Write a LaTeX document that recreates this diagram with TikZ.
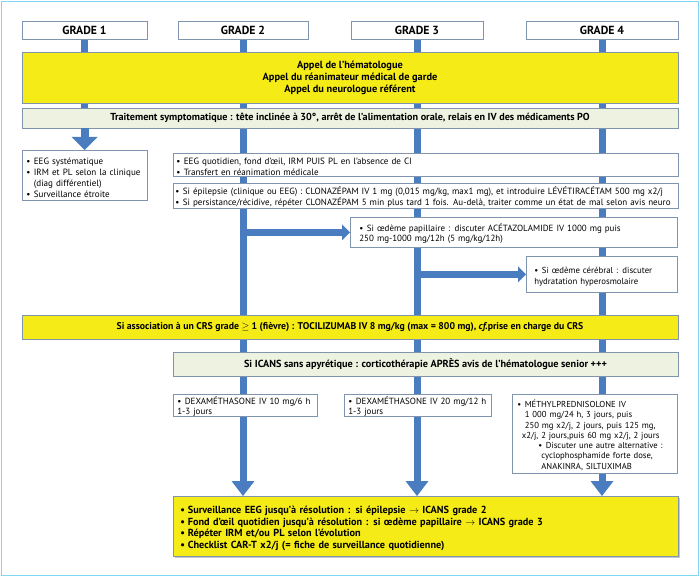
\documentclass[tikz,border=0pt]{standalone}
\usepackage{fontspec}
\setmainfont{PT Sans}
\usetikzlibrary{arrows.meta,shadows,backgrounds}
\definecolor{ylw}{HTML}{F5EC17}
\definecolor{grn}{HTML}{EEF3E1}
\definecolor{bdr}{HTML}{8194AE}
\definecolor{barc}{HTML}{4A7DC0}
\definecolor{frm}{HTML}{7FD7F2}
\newcommand\itm[1]{\par\hangindent=7.5bp\hangafter=1\noindent\makebox[7.5bp][l]{\textbullet}#1}
\newcommand\gline[2]{\par\noindent\hspace*{#1}#2}
\newcommand\fs[2]{\fontsize{#1}{#2}\selectfont}
\begin{document}
\begin{tikzpicture}[x=1bp,y=-1bp,
  font=\fs{9.1}{10.5},
  shd/.style={drop shadow={shadow xshift=1.2bp,shadow yshift=-1.2bp,fill=black!30,opacity=0.7}},
  gbox/.style={draw=bdr,fill=white,line width=0.7bp,inner sep=0pt,minimum height=18bp,font=\fs{11.8}{13}\bfseries},
  ybox/.style={draw=bdr,fill=ylw,line width=0.6bp,inner sep=0pt,shd},
  gnbox/.style={draw=bdr,fill=grn,line width=0.6bp,inner sep=0pt,shd},
  tbox/.style={draw=bdr,fill=white,line width=0.7bp,inner ysep=0pt,align=left,anchor=north west},
  barl/.style={draw=barc,line width=7bp},
  varrow/.style={draw=barc,line width=7bp,-{Triangle[width=23bp,length=15bp,line width=0pt]}},
  arrowa/.style={draw=barc,line width=8bp,-{Triangle[width=26bp,length=13bp,line width=0pt]}},
  harrow/.style={draw=barc,line width=7bp,-{Triangle[width=16bp,length=8bp,line width=0pt]}},
]
\useasboundingbox (0,0) rectangle (700,577);
\draw[draw=frm,line width=1.5bp] (1.5,1.5) rectangle (698.5,575.5);

% grade headers
\node[gbox,minimum width=125bp] (g1) at (84.5,30) {GRADE 1};
\node[gbox,minimum width=130bp] (g2) at (243,30) {GRADE 2};
\node[gbox,minimum width=132bp] (g3) at (417,30) {GRADE 3};
\node[gbox,minimum width=152bp] (g4) at (602,30) {GRADE 4};

% calls
\node[ybox,minimum width=656bp,minimum height=51bp,align=center,font=\fs{10.4}{12}\bfseries] (y1) at (350,77.5)
  {Appel de l’hématologue\\Appel du réanimateur médical de garde\\Appel du neurologue référent};

\node[gnbox,minimum width=656bp,minimum height=20bp,font=\fs{10.2}{11}\bfseries] (gn1) at (350,118)
  {Traitement symptomatique : tête inclinée à 30°, arrêt de l’alimentation orale, relais en IV des médicaments PO};

% grade 1 box
\node[tbox,minimum width=125bp,minimum height=50bp,inner xsep=4bp,text width=117bp,font=\fs{9.1}{11.3}] (b1) at (22,150)
  {\itm{EEG systématique}\itm{IRM et PL selon la clinique\newline(diag différentiel)}\itm{Surveillance étroite}};

% grade 2+ boxes
\node[tbox,minimum width=505bp,minimum height=23bp,inner xsep=3bp,text width=499bp] (bA) at (173,153)
  {\itm{EEG quotidien, fond d’œil, IRM PUIS PL en l’absence de CI}\itm{Transfert en réanimation médicale}};
\node[tbox,minimum width=505bp,minimum height=25bp,inner xsep=2bp,text width=501bp,font=\fs{9.05}{10.5}] (bB) at (173,183)
  {\itm{Si épilepsie (clinique ou EEG) : CLONAZÉPAM IV 1 mg (0,015 mg/kg, max1 mg), et introduire LÉVÉTIRACÉTAM 500 mg x2/j}\itm{Si persistance/récidive, répéter CLONAZÉPAM 5 min plus tard 1 fois. Au-delà, traiter comme un état de mal selon avis neuro}};
\node[tbox,minimum width=327bp,minimum height=30bp,inner xsep=9bp,text width=309bp,font=\fs{9}{10.5}] (bC) at (350,217)
  {\itm{Si œdème papillaire : discuter ACÉTAZOLAMIDE IV 1000 mg puis\newline 250 mg-1000 mg/12h (5 mg/kg/12h)}};
\node[tbox,minimum width=151bp,minimum height=36bp,inner xsep=8bp,text width=135bp,font=\fs{8.8}{11}] (bD) at (526,256)
  {\itm{Si œdème cérébral : discuter\newline hydratation hyperosmolaire}};

% CRS and ICANS
\node[ybox,minimum width=656bp,minimum height=24bp,font=\fs{9.8}{10}\bfseries] (crs) at (350,327)
  {Si association à un CRS grade $\geq$ 1 (fièvre) : TOCILIZUMAB IV 8 mg/kg (max = 800 mg), \textit{cf.}prise en charge du CRS};
\node[gnbox,minimum width=505bp,minimum height=24bp,font=\fs{10.3}{10}\bfseries] (ic) at (425.5,364)
  {Si ICANS sans apyrétique : corticothérapie APRÈS avis de l’hématologue senior +++};

% corticotherapy boxes
\node[tbox,minimum width=144bp,minimum height=21bp,inner xsep=4bp,text width=136bp,font=\fs{9}{10.3}] (bE) at (173,394)
  {\itm{DEXAMÉTHASONE IV 10 mg/6 h\newline 1-3 jours}};
\node[tbox,minimum width=147bp,minimum height=21bp,inner xsep=4bp,text width=139bp,font=\fs{9}{10.3}] (bF) at (344,394)
  {\itm{DEXAMÉTHASONE IV 20 mg/12 h\newline 1-3 jours}};
\node[tbox,minimum width=165bp,minimum height=79bp,inner xsep=5bp,text width=155bp,font=\fs{8.7}{10.3}] (bG) at (512,394)
  {\gline{0bp}{\makebox[7.5bp][l]{\textbullet}MÉTHYLPREDNISOLONE IV}%
   \gline{7.5bp}{1~000 mg/24 h, 3 jours, puis}%
   \gline{7.5bp}{250 mg x2/j, 2 jours, puis 125 mg,}%
   \gline{4.5bp}{x2/j, 2 jours,puis 60 mg x2/j, 2 jours}%
   \gline{21bp}{\makebox[7.5bp][l]{\textbullet}Discuter une autre alternative :}%
   \gline{24bp}{cyclophosphamide forte dose,}%
   \gline{24bp}{ANAKINRA, SILTUXIMAB}};

% final box
\node[tbox,fill=ylw,shd,minimum width=505bp,minimum height=60bp,inner xsep=7bp,text width=491bp,font=\fs{10.3}{11.7}\bfseries] (fin) at (173,496)
  {\itm{Surveillance EEG jusqu’à résolution : si épilepsie $\rightarrow$ ICANS grade 2}%
   \itm{Fond d’œil quotidien jusqu’à résolution : si œdème papillaire $\rightarrow$ ICANS grade 3}%
   \itm{Répéter IRM et/ou PL selon l’évolution}%
   \itm{Checklist CAR-T x2/j (= fiche de surveillance quotidienne)}};

% bars and arrows
\begin{scope}[on background layer]
  \draw[barl] (g1.south) -- (g1.south |- gn1.south);
  \draw[varrow] (g2.south) -- (g2.south |- fin.north);
  \draw[varrow] (g3.south) -- (g3.south |- fin.north);
  \draw[varrow] (g4.south) -- (g4.south |- fin.north);
\end{scope}
\draw[arrowa] (g1.south |- gn1.south) -- (g1.south |- b1.north);
\draw[harrow] (g2.south |- bC.west) -- (bC.west);
\draw[harrow] (g3.south |- bD.west) -- (bD.west);
\end{tikzpicture}
\end{document}
